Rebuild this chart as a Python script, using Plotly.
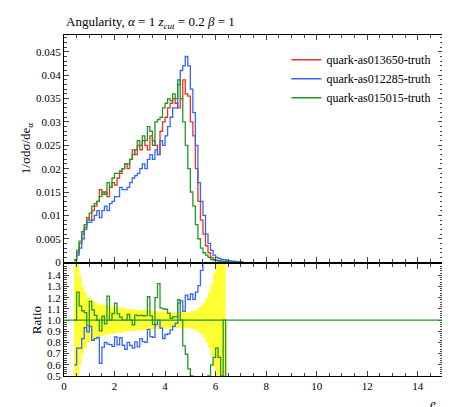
import plotly.graph_objects as go

# binning: 0.1 wide bins starting at 0.4
x_start = 0.4
bin_w = 0.1

# values in units of 1e-3
red = [0.5, 2, 4, 6, 7.5, 9.5, 9, 11, 12, 13, 15.5, 14.5, 15, 14, 16, 17, 16.5, 18, 19, 20,
       21, 20, 22, 24, 23, 25, 24, 26, 25, 24, 27, 26, 25, 23, 28, 30, 31, 33, 34, 35,
       34, 33, 35, 39, 36, 35.5, 30, 27, 20, 13, 9, 6, 3.5, 2, 1, 0.6, 0.4, 0.3, 0.2, 0.1,
       0.1, 0, 0, 0, 0, 0, 0]
blue = [0.3, 1.5, 3, 5, 7, 8.5, 8.5, 9, 10, 11, 9.5, 11, 12, 11, 12.5, 13, 14, 14, 16, 15.5,
        15.5, 16, 17, 18, 18.5, 19, 20, 21, 20, 22, 23, 22, 24, 23, 26, 25, 27, 29, 31, 33,
        33, 38, 41, 42, 44, 42, 37, 32, 25, 17, 13, 10, 6, 4, 2.5, 1.5, 1, 0.8, 0.6, 0.5,
        0.4, 0.3, 0.2, 0.2, 0.1, 0.1, 0.05]
green = [0.5, 2.5, 4.5, 6.5, 8, 9, 10.5, 12, 12.5, 13, 14, 15, 14.5, 17, 16, 18, 19, 19, 19.5, 20,
         21, 21, 22, 23, 24, 26, 25, 27, 26, 29, 28, 25, 30, 30.5, 31, 33, 34, 35, 34.5, 36,
         35, 39, 35, 30, 25, 20, 15, 12, 8, 5, 3, 2, 1.5, 1, 0.6, 0.4, 0.3, 0.2, 0.1, 0.1,
         0.05, 0, 0, 0, 0, 0, 0]
# relative stat. uncertainty of the reference (yellow band)
rel_err = [0.9, 0.6, 0.4, 0.3, 0.25, 0.2, 0.2, 0.18, 0.16, 0.15, 0.14, 0.14, 0.13, 0.13, 0.12, 0.12, 0.12, 0.11, 0.11, 0.11,
           0.1, 0.1, 0.1, 0.1, 0.09, 0.09, 0.09, 0.09, 0.09, 0.09, 0.08, 0.08, 0.08, 0.08, 0.08, 0.08, 0.08, 0.07, 0.07, 0.07,
           0.07, 0.07, 0.07, 0.07, 0.07, 0.07, 0.08, 0.08, 0.09, 0.11, 0.13, 0.16, 0.2, 0.25, 0.32, 0.42, 0.55, 0.7, 0.9, 1.0,
           1.0, 0, 0, 0, 0, 0, 0]

names = ["quark-as013650-truth", "quark-as012285-truth", "quark-as015015-truth"]
colors = ["#ee3322", "#3366ff", "#229922"]

main_ticks = [0, 0.005, 0.01, 0.015, 0.02, 0.025, 0.03, 0.035, 0.04, 0.045]
main_labels = ["0", "0.005", "0.01", "0.015", "0.02", "0.025", "0.03", "0.035", "0.04", "0.045"]

edges = [round(x_start + bin_w * i, 2) for i in range(len(red) + 1)]


def step(vals):
    return edges, list(vals) + [vals[-1]]


fig = go.Figure()

# yellow band in ratio panel
up = [1 + e if e > 0 else None for e in rel_err]
lo = [1 - e if e > 0 else None for e in rel_err]
fig.add_trace(go.Scatter(x=edges, y=lo + [lo[-1]], line_shape="hv", mode="lines",
                         line=dict(width=0), showlegend=False, xaxis="x2", yaxis="y2"))
fig.add_trace(go.Scatter(x=edges, y=up + [up[-1]], line_shape="hv", mode="lines", fill="tonexty",
                         fillcolor="#ffff33", line=dict(width=0), showlegend=False,
                         xaxis="x2", yaxis="y2"))

for vals, name, col in zip([red, blue, green], names, colors):
    xs, ys = step([v * 1e-3 for v in vals])
    fig.add_trace(go.Scatter(x=xs, y=ys, line_shape="hv", mode="lines", name=name,
                             line=dict(color=col, width=1.3)))

for vals, col in zip([blue, green], colors[1:]):
    ratio = [(v / r) if r > 0 else None for v, r in zip(vals, red)]
    xs, ys = step(ratio)
    fig.add_trace(go.Scatter(x=xs, y=ys, line_shape="hv", mode="lines", showlegend=False,
                             line=dict(color=col, width=1.3), xaxis="x2", yaxis="y2"))

fig.add_shape(type="line", x0=0, x1=15, y0=1, y1=1, xref="x2", yref="y2",
              line=dict(color="#229922", width=1.3))

ax = dict(showline=True, mirror="allticks", linecolor="black", ticks="inside", automargin=False,
          showgrid=False, zeroline=False, tickfont=dict(size=11))
fig.update_layout(
    width=450, height=407,
    margin=dict(l=56, r=15, t=27, b=39),
    plot_bgcolor="white", paper_bgcolor="white",
    font=dict(family="Liberation Serif", color="black"),
    xaxis=dict(ax, domain=[0, 1], range=[0, 15], anchor="y", showticklabels=False, dtick=2,
               minor=dict(ticks="inside", ticklen=3, dtick=0.5)),
    yaxis=dict(ax, domain=[0.334, 1], range=[0, 0.0486], tickvals=main_ticks, ticktext=main_labels,
               minor=dict(ticks="inside", ticklen=3, dtick=0.001),
               title=dict(text="1/σdσ/de<sub>α</sub>", font=dict(size=13), standoff=2)),
    xaxis2=dict(ax, domain=[0, 1], range=[0, 15], anchor="y2", dtick=2,
                minor=dict(ticks="inside", ticklen=3, dtick=0.5)),
    yaxis2=dict(ax, domain=[0, 0.328], range=[0.5, 1.5], anchor="x2",
                tickvals=[0.5, 0.6, 0.7, 0.8, 0.9, 1.0, 1.1, 1.2, 1.3, 1.4], tickformat=".1f",
                minor=dict(ticks="inside", ticklen=3, dtick=0.02),
                title=dict(text="Ratio", font=dict(size=13), standoff=2)),
    legend=dict(x=0.98, y=0.97, xanchor="right", yanchor="top", bgcolor="rgba(0,0,0,0)",
                traceorder="normal", font=dict(size=12)),
    annotations=[
        dict(text="Angularity, <i>α</i> = 1 <i>z<sub>cut</sub></i> = 0.2 <i>β</i> = 1",
             x=0, y=1, xref="paper", yref="paper", xanchor="left", yanchor="bottom",
             yshift=2, showarrow=False, font=dict(size=13)),
        dict(text="<i>e<sub>α</sub></i>", x=1, y=0, xref="paper", yref="paper",
             xanchor="right", yanchor="top", yshift=-18, showarrow=False, font=dict(size=13)),
    ],
)

fig.write_html("out.html")
